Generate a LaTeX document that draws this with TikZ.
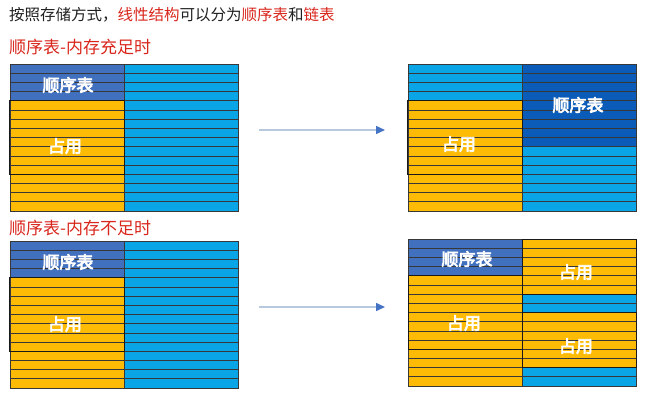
\documentclass[tikz,border=0pt]{standalone}
\usepackage{fontspec}
\setmainfont{Noto Sans CJK SC}
\newfontfamily\labelfont{Noto Sans CJK SC}[FakeBold=4]
\usetikzlibrary{arrows.meta}
\definecolor{seqblue}{HTML}{4170BE}
\definecolor{seqdark}{HTML}{0A5CB8}
\definecolor{freeblue}{HTML}{0AA5E6}
\definecolor{usedyel}{HTML}{FDBB05}
\definecolor{titlered}{HTML}{D9261C}
\definecolor{arrline}{HTML}{B8C9DE}
\definecolor{arrtip}{HTML}{4472C4}
\tikzset{
  rowline/.style={draw=black!78, line width=0.7pt},
  regionbox/.style={draw=black!90, line width=1pt},
  blocklabel/.style={text=white, font=\labelfont\fontsize{17}{17}\selectfont, inner sep=0pt},
  heading/.style={anchor=west, inner sep=0pt, text=titlered, font=\fontsize{17}{17}\selectfont},
  movearrow/.style={draw=arrline, line width=1.5pt, -{Triangle[color=arrtip, length=9pt, width=8pt]}}
}
\newcommand{\rowh}{9.1875}
\newcommand{\memgrid}{%
  \foreach \r in {1,...,15} \draw[rowline] (0,\r*\rowh) -- (228,\r*\rowh);
  \draw[rowline] (114,0) -- (114,147) (0,0) rectangle (228,147);}

\begin{document}
\begin{tikzpicture}[x=1pt,y=-1pt]
\useasboundingbox (0,0) rectangle (650,404);
\node[anchor=west, inner sep=0pt, text=black!88, font=\fontsize{15.5}{15.5}\selectfont] (title) at (9,15)
  {按照存储方式，\textcolor{titlered}{线性结构}可以分为\textcolor{titlered}{顺序表}和\textcolor{titlered}{链表}};
\node[heading] (case1) at (9,47) {顺序表-内存充足时};
\node[heading] (case2) at (9,228) {顺序表-内存不足时};

% enough memory, before
\begin{scope}[shift={(10,64)}]
\fill[seqblue] (0,0) rectangle (114,4*\rowh);
\fill[usedyel] (0,4*\rowh) rectangle (114,16*\rowh);
\fill[freeblue] (114,0) rectangle (228,16*\rowh);
\memgrid
\draw[regionbox] (-1,4*\rowh) rectangle (114,12*\rowh);
\node[blocklabel] (seq1) at (58,21) {顺序表};
\node[blocklabel] (used1) at (55,82) {占用};
\end{scope}

% enough memory, after
\begin{scope}[shift={(408,64)}]
\fill[freeblue] (0,0) rectangle (114,4*\rowh);
\fill[usedyel] (0,4*\rowh) rectangle (114,16*\rowh);
\fill[seqdark] (114,0) rectangle (228,9*\rowh);
\fill[freeblue] (114,9*\rowh) rectangle (228,16*\rowh);
\memgrid
\draw[regionbox] (-1,4*\rowh) rectangle (114,12*\rowh);
\node[blocklabel] (seq2) at (170,41) {顺序表};
\node[blocklabel] (used2) at (51,80) {占用};
\end{scope}

% not enough memory, before
\begin{scope}[shift={(10,241)}]
\fill[seqblue] (0,0) rectangle (114,4*\rowh);
\fill[usedyel] (0,4*\rowh) rectangle (114,16*\rowh);
\fill[freeblue] (114,0) rectangle (228,16*\rowh);
\memgrid
\draw[regionbox] (-1,4*\rowh) rectangle (114,12*\rowh);
\node[blocklabel] (seq3) at (58,21) {顺序表};
\node[blocklabel] (used3) at (55,83) {占用};
\end{scope}

% not enough memory, after
\begin{scope}[shift={(408,239)}]
\fill[seqblue] (0,0) rectangle (114,4*\rowh);
\fill[usedyel] (0,4*\rowh) rectangle (114,16*\rowh);
\fill[usedyel] (114,0) rectangle (228,6*\rowh);
\fill[freeblue] (114,6*\rowh) rectangle (228,8*\rowh);
\fill[usedyel] (114,8*\rowh) rectangle (228,14*\rowh);
\fill[freeblue] (114,14*\rowh) rectangle (228,16*\rowh);
\memgrid
\draw[regionbox] (0,4*\rowh) rectangle (114,12*\rowh);
\draw[regionbox] (114,0) rectangle (228,6*\rowh) (114,8*\rowh) rectangle (228,14*\rowh);
\node[blocklabel] (seq4) at (59,20) {顺序表};
\node[blocklabel] (used4) at (56,84) {占用};
\node[blocklabel] (used5) at (168,33) {占用};
\node[blocklabel] (used6) at (168,107) {占用};
\end{scope}

\coordinate (arr1s) at (259,130); \coordinate (arr1e) at (385,130);
\coordinate (arr2s) at (259,307); \coordinate (arr2e) at (385,307);
\draw[movearrow] (arr1s) -- (arr1e);
\draw[movearrow] (arr2s) -- (arr2e);
\end{tikzpicture}
\end{document}
